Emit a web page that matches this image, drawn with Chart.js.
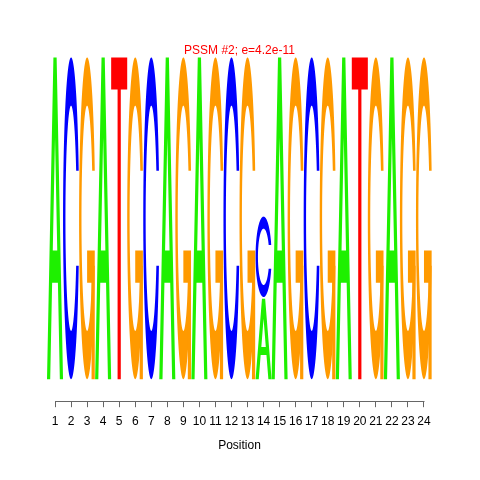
<!DOCTYPE html>
<html><head><meta charset="utf-8">
<script src="https://cdn.jsdelivr.net/npm/chart.js@4.4.1/dist/chart.umd.min.js"></script>
<style>html,body{margin:0;padding:0;background:#fff;}canvas{display:block;}</style>
</head><body>
<canvas id="c" width="480" height="480"></canvas>
<script>
// Data (letter heights in bits, as drawn; 0.95 * prob * information content)
const positions = ['1','2','3','4','5','6','7','8','9','10','11','12','13','14','15','16','17','18','19','20','21','22','23','24'];
const heightA = [1.9,0,0,1.9,0,0,0,1.9,0,1.9,0,0,0,0.475,1.9,0,0,0,1.9,0,0,1.9,0,0];
const heightC = [0,1.9,0,0,0,0,1.9,0,0,0,0,1.9,0,0.475,0,0,1.9,0,0,0,0,0,0,0];
const heightG = [0,0,1.9,0,0,1.9,0,0,1.9,0,1.9,0,1.9,0,0,1.9,0,1.9,0,0,1.9,0,1.9,1.9];
const heightT = [0,0,0,0,1.9,0,0,0,0,0,0,0,0,0,0,0,0,0,0,1.9,0,0,0,0];
const letters = ['A','C','G','T'];
const letterHeights = [heightA, heightC, heightG, heightT];
const letterColors = ['#1EF000','#0000FF','#FF9A00','#FF0000'];
const titleText = 'PSSM #2; e=4.2e-11';
const xTitleText = 'Position';
const stackGap = 0.01;

// Glyph outlines in unit square (x right, y up)
function ringOuterInner(){
  const phi0 = Math.PI/2 + 0.3, N = 120;
  const pts = [];
  for (let k=0;k<=N;k++){ const p = phi0 + (3*Math.PI - 2*phi0)*k/N; pts.push([0.5+0.5*Math.sin(p), 0.5+0.5*Math.cos(p)]); }
  const yEnd = 0.5 + 0.5*Math.cos(phi0);
  const phiI = Math.acos((yEnd-0.5)/0.35);
  for (let k=0;k<=N;k++){ const p = (3*Math.PI - phiI) - (3*Math.PI - 2*phiI)*k/N; pts.push([0.5+0.35*Math.sin(p), 0.5+0.35*Math.cos(p)]); }
  return pts;
}
const r1 = 0.5 + 0.5*Math.sin(Math.PI/2 + 0.3);
const glyphs = {
  A: [{rule:'evenodd', paths:[[[0,0],[0.4,1],[0.6,1],[1,0],[0.8,0],[0.68,0.3],[0.32,0.3],[0.2,0]], [[0.36,0.4],[0.5,0.75],[0.64,0.4]]]}],
  C: [{rule:'nonzero', paths:[ringOuterInner()]}],
  G: [{rule:'nonzero', paths:[ringOuterInner()]}, {rule:'nonzero', paths:[[[r1,0.4],[0.5,0.4],[0.5,0.3],[r1-0.2,0.3],[r1-0.2,0],[r1,0]]]}],
  T: [{rule:'nonzero', paths:[[[0,1],[1,1],[1,0.9],[0.6,0.9],[0.6,0],[0.4,0],[0.4,0.9],[0,0.9]]]}]
};

const logoPlugin = {
  id: 'logo',
  afterDatasetsDraw(chart){
    const ctx = chart.ctx, ys = chart.scales.y;
    const gapPx = ys.getPixelForValue(0) - ys.getPixelForValue(stackGap);
    const zeroPx = ys.getPixelForValue(0);
    chart.data.datasets.forEach((ds, di) => {
      const meta = chart.getDatasetMeta(di);
      meta.data.forEach((el, j) => {
        if (!(ds.data[j] > 0)) return;
        const p = el.getProps(['x','y','base','width'], true);
        const left = p.x - p.width/2, w = p.width;
        let bottom = p.base, top = p.y;
        if (bottom < zeroPx - 0.5) { bottom -= gapPx; top -= gapPx; }
        const h = bottom - top;
        ctx.save();
        ctx.fillStyle = letterColors[di];
        glyphs[letters[di]].forEach(part => {
          ctx.beginPath();
          part.paths.forEach(poly => {
            poly.forEach((pt, k) => {
              const X = left + pt[0]*w, Y = bottom - pt[1]*h;
              if (k===0) ctx.moveTo(X,Y); else ctx.lineTo(X,Y);
            });
            ctx.closePath();
          });
          ctx.fill(part.rule);
        });
        ctx.restore();
      });
    });
  },
  afterDraw(chart){
    const xs = chart.scales.x, ctx = chart.ctx;
    const x0 = xs.getPixelForValue(0), x1 = xs.getPixelForValue(positions.length-1);
    const y = Math.round(chart.chartArea.bottom) + 0.5;
    ctx.save();
    ctx.strokeStyle = '#666'; ctx.lineWidth = 1;
    ctx.beginPath(); ctx.moveTo(Math.round(x0)+0.5, y); ctx.lineTo(Math.round(x1)+0.5, y); ctx.stroke();
    ctx.restore();
  }
};

new Chart(document.getElementById('c'), {
  type: 'bar',
  data: {
    labels: positions,
    datasets: letters.map((L, i) => ({
      label: L, data: letterHeights[i],
      backgroundColor: 'rgba(0,0,0,0)', borderWidth: 0,
      categoryPercentage: 1.0, barPercentage: 1.0
    }))
  },
  options: {
    responsive: false, animation: false,
    layout: { padding: { top: 43, left: 47, right: 48, bottom: 27 } },
    plugins: {
      legend: { display: false }, tooltip: { enabled: false },
      title: { display: true, text: titleText, color: '#FF0000',
        font: { family: 'Liberation Sans', size: 12, weight: 'normal' }, padding: { top: 0, bottom: 0 } }
    },
    scales: {
      x: {
        stacked: true, offset: true,
        grid: { display: true, drawOnChartArea: false, drawTicks: true, tickLength: 6, offset: false, color: '#666' },
        border: { display: false },
        ticks: { color: '#000', font: { family: 'Liberation Sans', size: 12 }, padding: 7, autoSkip: false, maxRotation: 0 },
        title: { display: true, text: xTitleText, color: '#000', font: { family: 'Liberation Sans', size: 12 }, padding: { top: 3, bottom: 0 } }
      },
      y: { stacked: true, display: false, min: -0.13, max: 1.9 }
    }
  },
  plugins: [logoPlugin]
});
</script>
</body></html>
